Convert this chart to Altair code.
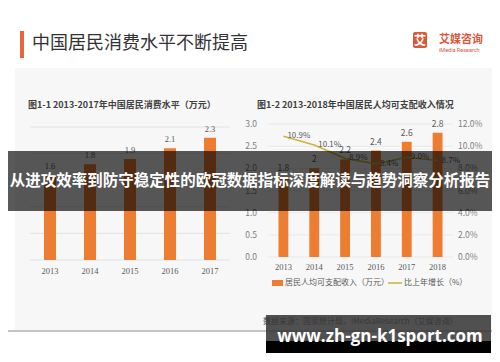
import altair as alt
import pandas as pd

# ---------------- data ----------------
years_1 = ["2013", "2014", "2015", "2016", "2017"]
consumption = [1.6, 1.8, 1.9, 2.1, 2.3]
consumption_labels = ["1.6", "1.8", "1.9", "2.1", "2.3"]

years_2 = ["2013", "2014", "2015", "2016", "2017", "2018"]
income = [1.8, 2.0, 2.2, 2.4, 2.6, 2.8]
income_labels = ["1.8", "2", "2.2", "2.4", "2.6", "2.8"]
growth = [10.9, 10.1, 8.9, 8.4, 9.0, 8.7]
growth_labels = ["10.9%", "10.1%", "8.9%", "8.4%", "9.0%", "8.7%"]

grid_1 = [0, 0.5, 1.0, 1.5, 2.0, 2.5]
grid_2 = [0, 0.5, 1.0, 1.5, 2.0, 2.5, 3.0]
grid_2_labels = ["0.0", "0.5", "1.0", "1.5", "2.0", "2.5", "3.0"]
pct_ticks = [0, 2, 4, 6, 8, 10, 12]
pct_labels = ["0.0%", "2.0%", "4.0%", "6.0%", "8.0%", "10.0%", "12.0%"]

header_title = "中国居民消费水平不断提高"
title_1 = "图1-1 2013-2017年中国居民消费水平（万元）"
title_2 = "图1-2 2013-2018年中国居民人均可支配收入情况"
legend_bar = "居民人均可支配收入（万元）"
legend_line = "比上年增长（%）"
source_text = "数据来源：国家统计局，iMediaResearch（艾媒咨询）"
banner_text = "从进攻效率到防守稳定性的欧冠数据指标深度解读与趋势洞察分析报告"
watermark = "www.zh-gn-k1sport.com"

df1 = pd.DataFrame({"year": years_1, "value": consumption, "label": consumption_labels})
df2 = pd.DataFrame({"year": years_2, "value": income, "label": income_labels,
                    "growth": growth, "glabel": growth_labels})
dg1 = pd.DataFrame({"v": grid_1})
dg2 = pd.DataFrame({"v": grid_2, "label": grid_2_labels})
dp = pd.DataFrame({"v": pct_ticks, "label": pct_labels})
one = pd.DataFrame({"a": [0]})

CJK = "Noto Sans CJK SC"
NUM = "Liberation Serif"
ORANGE = "#ED7D31"
GOLD = "#CDB63A"
GRAY = "#595959"

# ---------------- scales ----------------
def x1():
    return alt.X("year:N", axis=None,
                 scale=alt.Scale(domain=years_1, range=[22, 222],
                                 paddingInner=0.7, paddingOuter=0.35))

def y1(field="value"):
    return alt.Y(f"{field}:Q", axis=None,
                 scale=alt.Scale(domain=[0, 2.5], range=[252, 119], nice=False, zero=True))

def x2():
    return alt.X("year:N", axis=None,
                 scale=alt.Scale(domain=years_2, range=[260, 445],
                                 paddingInner=0.68, paddingOuter=0.34))

def y2(field="value"):
    return alt.Y(f"{field}:Q", axis=None,
                 scale=alt.Scale(domain=[0, 3.0], range=[249, 116], nice=False, zero=True))

def yp(field="growth"):
    return alt.Y(f"{field}:Q", axis=None,
                 scale=alt.Scale(domain=[0, 12], range=[249, 116], nice=False, zero=True))

# ---------------- helpers ----------------
def box(xa, ya, xb, yb, color, opacity=1.0, radius=0):
    m = alt.Chart(one).mark_rect(color=color, opacity=opacity, cornerRadius=radius)
    return m.encode(x=alt.value(xa), x2=alt.value(xb), y=alt.value(ya), y2=alt.value(yb))

def txt(x, y, text, size=8, color=GRAY, font=CJK, weight="normal", align="left"):
    return alt.Chart(one).mark_text(text=text, fontSize=size, color=color, font=font,
                                    fontWeight=weight, align=align, baseline="middle").encode(
        x=alt.value(x), y=alt.value(y))

layers = []

# page background panel
layers.append(box(7, 60, 484, 322, "#f7f7f7"))

# header
layers.append(box(12, 23, 16, 50, "#E8643A"))
layers.append(txt(24, 36, header_title, size=18, color="#333333"))
layers.append(box(405, 24, 419, 40, "#D9573A", radius=2))
layers.append(txt(412, 32.5, "艾", size=12, color="white", weight="bold", align="center"))
layers.append(txt(431, 32, "艾媒咨询", size=11, color="#D9573A", weight="bold"))
layers.append(txt(431, 42, "iMedia Research", size=5.5, color="#D9573A", font="Roboto"))

# ---- left chart ----
layers.append(txt(20, 97, title_1, size=9, color="#404040", weight="bold"))
layers.append(alt.Chart(dg1).mark_rule(color="#e2e2e2", strokeWidth=1).encode(
    y=y1("v"), x=alt.value(22), x2=alt.value(222)))
layers.append(alt.Chart(df1).mark_bar(color=ORANGE).encode(x=x1(), y=y1()))
layers.append(alt.Chart(df1).mark_text(fontSize=8.5, color=GRAY, font=NUM, baseline="bottom",
                                       dy=-4).encode(x=x1(), y=y1(), text="label:N"))
layers.append(alt.Chart(df1).mark_text(fontSize=8.5, color=GRAY, font=NUM, baseline="middle").encode(
    x=x1(), y=alt.value(263), text="year:N"))

# ---- right chart ----
layers.append(txt(249, 97, title_2, size=9, color="#404040", weight="bold"))
layers.append(alt.Chart(dg2).mark_rule(color="#e9e9e9", strokeWidth=1).encode(
    y=y2("v"), x=alt.value(260), x2=alt.value(445)))
layers.append(alt.Chart(dg2).mark_text(fontSize=8.5, color="#7f7f7f", font=CJK, align="right",
                                       baseline="middle").encode(
    y=y2("v"), x=alt.value(249), text="label:N"))
layers.append(alt.Chart(dp).mark_text(fontSize=8.5, color="#7f7f7f", font=CJK, align="left",
                                      baseline="middle").encode(
    y=yp("v"), x=alt.value(450), text="label:N"))
layers.append(alt.Chart(df2).mark_bar(color=ORANGE).encode(x=x2(), y=y2()))
layers.append(alt.Chart(df2).mark_text(fontSize=8.5, color=GRAY, font=CJK, baseline="bottom",
                                       dy=-4).encode(x=x2(), y=y2(), text="label:N"))
layers.append(alt.Chart(df2).mark_text(fontSize=8.5, color=GRAY, font=NUM, baseline="middle").encode(
    x=x2(), y=alt.value(259), text="year:N"))
layers.append(alt.Chart(df2).mark_line(color=GOLD, strokeWidth=1.6).encode(
    x=x2(), y=yp(), order=alt.Order("year:N")))
layers.append(alt.Chart(df2).mark_text(fontSize=8, color=GRAY, font=CJK, align="left",
                                       baseline="middle", dx=4).encode(
    x=x2(), y=yp(), text="glabel:N"))

# legend
layers.append(box(264, 272, 275, 278, ORANGE))
layers.append(txt(277, 275, legend_bar, size=8))
layers.append(alt.Chart(one).mark_rule(color=GOLD, strokeWidth=1.6).encode(
    x=alt.value(380), x2=alt.value(394), y=alt.value(275)))
layers.append(txt(396, 275, legend_line, size=8))

# footer
layers.append(txt(255, 314, source_text, size=8, color="#555555"))
layers.append(alt.Chart(one).mark_rule(color="#c4c4c4", strokeWidth=2).encode(
    x=alt.value(0), x2=alt.value(484), y=alt.value(323)))

# overlay banner
layers.append(box(0, 143, 484, 203, "#000000", opacity=0.65))
layers.append(txt(242, 173, banner_text, size=15.5, color="white", weight="bold", align="center"))

# watermark box
layers.append(box(258, 307, 483, 345, "#333333", opacity=0.85))
layers.append(box(258, 333, 483, 345, "#000000"))
layers.append(txt(372, 329, watermark, size=17, color="white", font="Open Sans", weight="bold",
                  align="center"))

chart = alt.layer(*layers).resolve_scale(x="independent", y="independent").properties(
    width=484, height=346,
    autosize=alt.AutoSizeParams(type="none"),
    padding=0,
    background="white",
).configure_view(stroke=None)

chart.save("out.html", embed_options={"renderer": "svg", "actions": False})
